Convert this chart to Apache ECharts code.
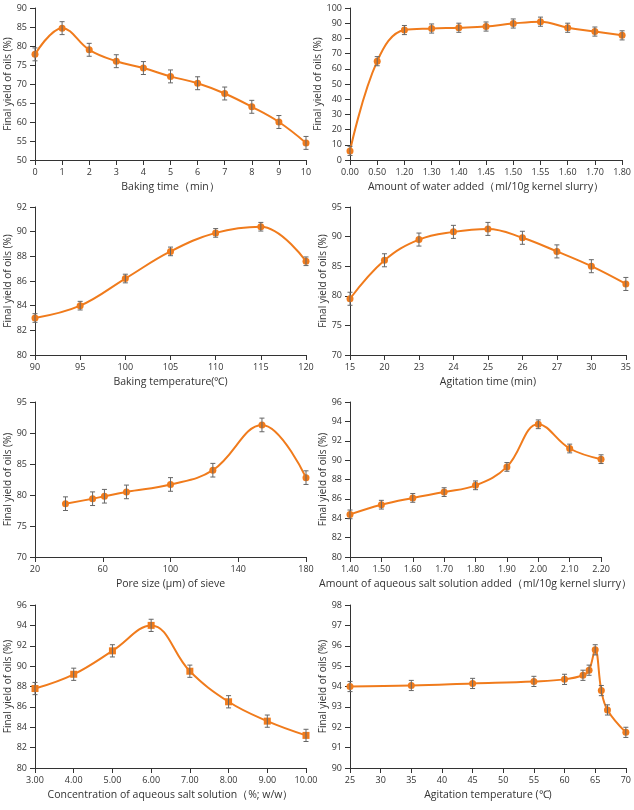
<!DOCTYPE html>
<html>
<head>
<meta charset="utf-8">
<script src="https://cdn.jsdelivr.net/npm/echarts@6/dist/echarts.min.js"></script>
<style>html,body{margin:0;padding:0;background:#fff}#chart{width:634px;height:810px}</style>
</head>
<body>
<div id="chart"></div>
<script>
// data
var bakeTimeX = [0, 1, 2, 3, 4, 5, 6, 7, 8, 9, 10];
var bakeTimeY = [77.8, 84.7, 79, 76, 74.2, 72, 70.2, 67.5, 64, 60, 54.5];
var bakeTimeErr = 1.7;

var waterLabels = ['0.00', '0.50', '1.20', '1.30', '1.40', '1.45', '1.50', '1.55', '1.60', '1.70', '1.80'];
var waterY = [6, 65, 85.5, 86.5, 87, 87.8, 89.8, 91, 87, 84.5, 82];
var waterErr = 3;

var bakeTempX = [90, 95, 100, 105, 110, 115, 120];
var bakeTempY = [83, 84, 86.2, 88.4, 89.9, 90.4, 87.6];
var bakeTempErr = 0.35;

var agiTimeLabels = ['15', '20', '23', '24', '25', '26', '27', '30', '35'];
var agiTimeY = [79.5, 86, 89.5, 90.8, 91.3, 89.8, 87.5, 85, 82];
var agiTimeErr = 1.1;

var poreX = [38, 54, 61, 74, 100, 125, 154, 180];
var poreY = [78.6, 79.4, 79.8, 80.5, 81.7, 84, 91.3, 82.8];
var poreErr = 1.1;

var saltAmtX = [1.4, 1.5, 1.6, 1.7, 1.8, 1.9, 2.0, 2.1, 2.2];
var saltAmtY = [84.4, 85.4, 86.1, 86.7, 87.4, 89.3, 93.7, 91.2, 90.1];
var saltAmtErr = 0.45;

var concX = [3, 4, 5, 6, 7, 8, 9, 10];
var concY = [87.8, 89.2, 91.5, 94, 89.5, 86.5, 84.6, 83.2];
var concErr = 0.6;

var agiTempX = [25, 35, 45, 55, 60, 63, 64, 65, 66, 67, 70];
var agiTempY = [94, 94.05, 94.15, 94.25, 94.35, 94.55, 94.8, 95.8, 93.8, 92.85, 91.75];
var agiTempErr = 0.25;

var panels = [
  {x: bakeTimeX, y: bakeTimeY, e: bakeTimeErr, xmin: 0, xmax: 10, xi: 1, ymin: 50, ymax: 90, yi: 5, name: 'Baking time\uff08min\uff09'},
  {x: waterLabels, y: waterY, e: waterErr, cat: true, ymin: 0, ymax: 100, yi: 10, name: 'Amount of water added\uff08ml/10g kernel slurry\uff09'},
  {x: bakeTempX, y: bakeTempY, e: bakeTempErr, xmin: 90, xmax: 120, xi: 5, ymin: 80, ymax: 92, yi: 2, name: 'Baking temperature(\u2103)'},
  {x: agiTimeLabels, y: agiTimeY, e: agiTimeErr, cat: true, ymin: 70, ymax: 95, yi: 5, name: 'Agitation time (min)'},
  {x: poreX, y: poreY, e: poreErr, xmin: 20, xmax: 180, xi: 40, ymin: 70, ymax: 95, yi: 5, name: 'Pore size (\u03bcm) of sieve'},
  {x: saltAmtX, y: saltAmtY, e: saltAmtErr, xmin: 1.4, xmax: 2.2, xi: 0.1, dec: 2, ymin: 80, ymax: 96, yi: 2, name: 'Amount of aqueous salt solution added\uff08ml/10g kernel slurry\uff09'},
  {x: concX, y: concY, e: concErr, xmin: 3, xmax: 10, xi: 1, dec: 2, ymin: 80, ymax: 96, yi: 2, sym: 'rect', name: 'Concentration of aqueous salt solution\uff08%; w/w\uff09'},
  {x: agiTempX, y: agiTempY, e: agiTempErr, xmin: 25, xmax: 70, xi: 5, ymin: 90, ymax: 98, yi: 1, name: 'Agitation temperature (\u2103)'}
];

var rowTop = [8, 207, 402, 605];
var rowH = [152, 148, 155, 163];
var colLeft = [35, 350];
var colW = [271, 278];
var orange = '#F07B1C';

var grids = [], xAxes = [], yAxes = [], series = [];
panels.forEach(function (p, i) {
  var r = Math.floor(i / 2), c = i % 2;
  grids.push({left: colLeft[c], top: rowTop[r], width: colW[c], height: rowH[r]});
  var axisLine = {lineStyle: {color: '#333'}};
  var lab = {fontSize: 9, color: '#333', fontFamily: 'Open Sans'};
  if (p.cat) {
    xAxes.push({gridIndex: i, type: 'category', data: p.x, boundaryGap: false, axisLine: axisLine,
      axisTick: {alignWithLabel: true}, axisLabel: lab, name: p.name, nameLocation: 'middle', nameGap: 22,
      nameTextStyle: {fontSize: 10.5, color: '#333', fontFamily: 'Open Sans'}});
  } else {
    xAxes.push({gridIndex: i, type: 'value', min: p.xmin, max: p.xmax, interval: p.xi, axisLine: axisLine,
      splitLine: {show: false}, axisTick: {show: true},
      axisLabel: Object.assign({}, lab, {formatter: function (v) { return p.dec ? v.toFixed(p.dec) : Math.round(v * 100) / 100; }}),
      name: p.name, nameLocation: 'middle', nameGap: 22,
      nameTextStyle: {fontSize: 10.5, color: '#333', fontFamily: 'Open Sans'}});
  }
  yAxes.push({gridIndex: i, type: 'value', min: p.ymin, max: p.ymax, interval: p.yi,
    axisLine: {show: true, lineStyle: {color: '#333'}}, axisTick: {show: true}, splitLine: {show: false},
    axisLabel: lab, name: 'Final yield of oils (%)', nameLocation: 'middle', nameGap: 22,
    nameTextStyle: {fontSize: 10, color: '#333', fontFamily: 'Open Sans'}});
  var pts = p.y.map(function (v, k) { return [p.x[k], v]; });
  series.push({type: 'line', xAxisIndex: i, yAxisIndex: i, data: pts, smooth: 0.4,
    symbol: p.sym || 'circle', symbolSize: 7, lineStyle: {color: orange, width: 2},
    itemStyle: {color: orange}, z: 3});
  series.push({type: 'custom', xAxisIndex: i, yAxisIndex: i, z: 4,
    data: p.y.map(function (v, k) { return [p.x[k], v - p.e, v + p.e]; }),
    renderItem: function (params, api) {
      var lo = api.coord([api.value(0), api.value(1)]);
      var hi = api.coord([api.value(0), api.value(2)]);
      var st = {stroke: '#666', lineWidth: 1};
      return {type: 'group', children: [
        {type: 'line', shape: {x1: lo[0], y1: lo[1], x2: hi[0], y2: hi[1]}, style: st},
        {type: 'line', shape: {x1: lo[0] - 2.5, y1: lo[1], x2: lo[0] + 2.5, y2: lo[1]}, style: st},
        {type: 'line', shape: {x1: hi[0] - 2.5, y1: hi[1], x2: hi[0] + 2.5, y2: hi[1]}, style: st}
      ]};
    }});
});

var chart = echarts.init(document.getElementById('chart'));
chart.setOption({animation: false, grid: grids, xAxis: xAxes, yAxis: yAxes, series: series});
</script>
</body>
</html>
